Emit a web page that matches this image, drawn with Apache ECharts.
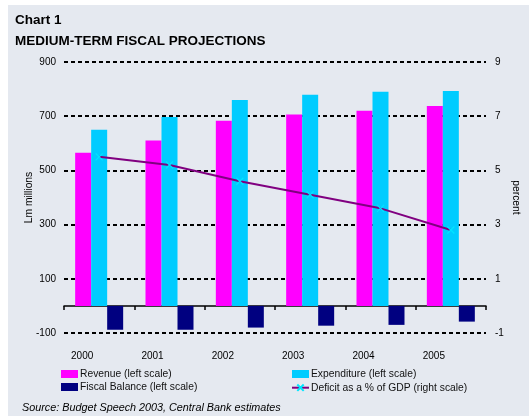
<!DOCTYPE html>
<html>
<head>
<meta charset="utf-8">
<script src="https://cdn.jsdelivr.net/npm/echarts@6/dist/echarts.min.js"></script>
<style>
html,body{margin:0;padding:0;background:#fff;}
#chart{width:529px;height:418px;}
</style>
</head>
<body>
<div id="chart"></div>
<script>
var years = ['2000', '2001', '2002', '2003', '2004', '2005'];
var revenue = [565, 610, 683, 706, 720, 738];
var expenditure = [650, 697, 760, 779, 790, 793];
var fiscalBalance = [-88, -88, -80, -73, -70, -58];
var deficitPct = [5.5, 5.2, 4.6, 4.1, 3.6, 2.8];

var FONT = '"Liberation Sans", Arial, sans-serif';
var chart = echarts.init(document.getElementById('chart'), null, {renderer: 'canvas'});

var crossPath = 'path://M0,0L10,10M10,0L0,10';

chart.setOption({
  backgroundColor: '#ffffff',
  animation: false,
  textStyle: {fontFamily: FONT},
  graphic: [
    {type: 'rect', z: -10, shape: {x: 8, y: 5, width: 521, height: 411}, style: {fill: '#E5E9F0'}},
    {type: 'text', left: 15, top: 13, style: {text: 'Chart 1', font: 'bold 13.5px ' + FONT, fill: '#000'}},
    {type: 'text', left: 15, top: 34, style: {text: 'MEDIUM-TERM FISCAL PROJECTIONS', font: 'bold 13.5px ' + FONT, fill: '#000'}},
    {type: 'text', left: 22, top: 402, style: {text: 'Source: Budget Speech 2003, Central Bank estimates', font: 'italic 10.8px ' + FONT, fill: '#000'}}
  ],
  legend: [
    {
      left: 61, top: 369, orient: 'vertical', itemWidth: 17, itemHeight: 8, itemGap: 3, padding: 0,
      textStyle: {fontSize: 10.3, color: '#111', fontFamily: FONT, padding: [0, 0, 0, -3]},
      data: [{name: 'Revenue (left scale)', icon: 'rect'}, {name: 'Fiscal Balance (left scale)', icon: 'rect'}]
    },
    {
      left: 291, top: 369, orient: 'vertical', itemWidth: 17, itemHeight: 8, itemGap: 3, padding: 0,
      textStyle: {fontSize: 10.3, color: '#111', fontFamily: FONT, padding: [0, 0, 0, -3]},
      data: [{name: 'Expenditure (left scale)', icon: 'rect'}, {name: 'Deficit as a % of GDP (right scale)'}]
    }
  ],
  grid: {left: 64, right: 36, top: 62, bottom: 85, containLabel: false},
  xAxis: [
    {
      type: 'category', data: years, position: 'bottom',
      axisLine: {show: true, onZero: true, lineStyle: {color: '#000', width: 1.5}},
      axisTick: {show: true, length: 4, lineStyle: {color: '#000', width: 1.5}},
      axisLabel: {show: false},
      splitLine: {show: false}
    },
    {
      type: 'category', data: years, position: 'bottom',
      axisLine: {show: false, onZero: false},
      axisTick: {show: false},
      axisLabel: {show: true, margin: 18, fontSize: 10, color: '#000', padding: [0, 34, 0, 0]},
      splitLine: {show: false}
    }
  ],
  yAxis: [
    {
      type: 'value', min: -100, max: 900, interval: 200, position: 'left',
      name: 'Lm millions', nameLocation: 'middle', nameRotate: 90, nameGap: 30, nameMoveOverlap: false,
      nameTextStyle: {fontSize: 10.3, color: '#000'},
      axisLine: {show: false}, axisTick: {show: false},
      axisLabel: {fontSize: 10, color: '#000', margin: 8},
      splitLine: {show: true, lineStyle: {color: '#000', width: 2, type: [4, 3]}}
    },
    {
      type: 'value', min: -1, max: 9, interval: 2, position: 'right',
      name: 'percent', nameLocation: 'middle', nameRotate: -90, nameGap: 25, nameMoveOverlap: false,
      nameTextStyle: {fontSize: 10.3, color: '#000'},
      axisLine: {show: false}, axisTick: {show: false},
      axisLabel: {fontSize: 10, color: '#000', margin: 9},
      splitLine: {show: false}
    }
  ],
  series: [
    {
      name: 'Revenue (left scale)', type: 'bar', xAxisIndex: 0, yAxisIndex: 0, z: 2,
      data: revenue, barWidth: 16, barGap: '0%', itemStyle: {color: '#FF00FF'}
    },
    {
      name: 'Expenditure (left scale)', type: 'bar', xAxisIndex: 0, yAxisIndex: 0, z: 2,
      data: expenditure, barWidth: 16, barGap: '0%', itemStyle: {color: '#00CCFF'}
    },
    {
      name: 'Fiscal Balance (left scale)', type: 'bar', xAxisIndex: 0, yAxisIndex: 0, z: 2,
      data: fiscalBalance, barWidth: 16, barGap: '0%', itemStyle: {color: '#000080'}
    },
    {
      name: 'Deficit as a % of GDP (right scale)', type: 'line', xAxisIndex: 0, yAxisIndex: 1,
      data: deficitPct, symbol: crossPath, symbolSize: 7, showSymbol: true, z: 20, zlevel: 1,
      lineStyle: {color: '#800080', width: 2},
      itemStyle: {color: 'none', borderColor: '#00E5FF', borderWidth: 1.2}
    }
  ]
});
</script>
</body>
</html>
